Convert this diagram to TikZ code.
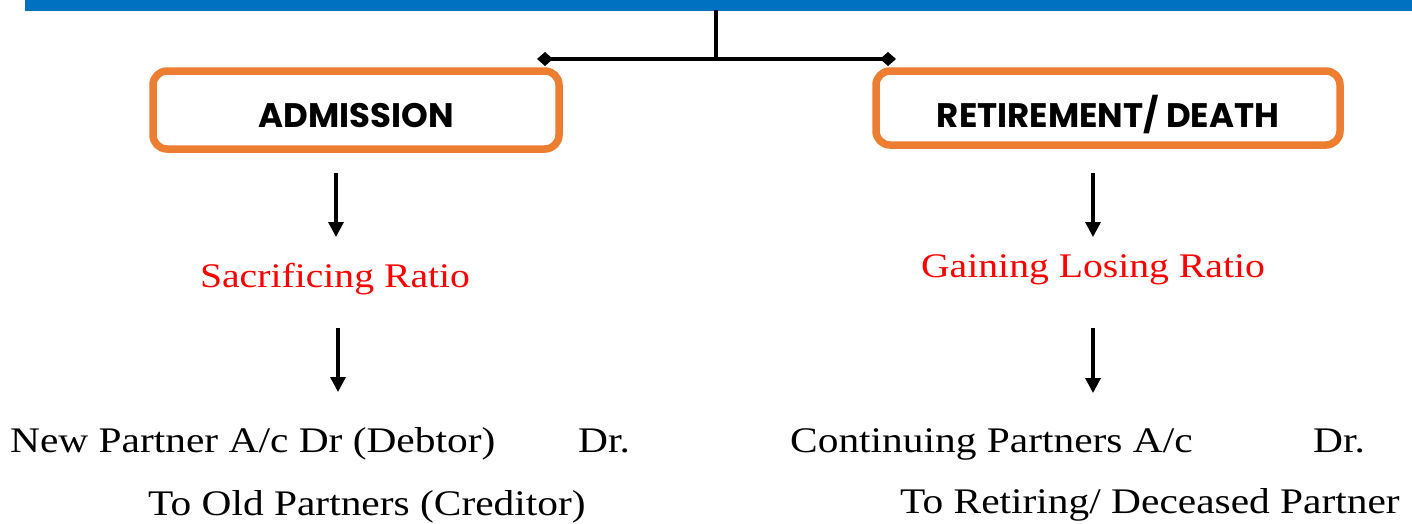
\documentclass[tikz,border=0pt]{standalone}
\usepackage{fontspec}
\setmainfont{Liberation Serif}
\newfontfamily\entryfont[FakeStretch=1.15]{Liberation Serif}
\newfontfamily\boxfont{Poppins}
\usetikzlibrary{arrows.meta}
\definecolor{barblue}{HTML}{0070C0}
\definecolor{boxorange}{HTML}{ED7D31}
\definecolor{ratiored}{HTML}{FF0000}
\begin{document}
\begin{tikzpicture}[x=1pt,y=-1pt,
  conn/.style={line width=3.3pt,black},
  arr/.style={line width=3.3pt,black,-{Triangle[length=15pt,width=15pt]}},
  catbox/.style={draw=boxorange,line width=7.5pt,rounded corners=14pt,fill=white,
    font=\boxfont\bfseries\fontsize{34}{40}\selectfont,inner sep=0pt},
  ratio/.style={text=ratiored,font=\entryfont\fontsize{34.5}{40}\selectfont,inner sep=0pt},
  entry/.style={font=\entryfont\fontsize{36}{42}\selectfont,inner sep=0pt,anchor=base west}]
\useasboundingbox (0,0) rectangle (1412,523);
\fill[barblue] (25,0) rectangle (1412,10.5);
\coordinate (top) at (716,10);
\coordinate (mid) at (716,59);
\coordinate (jl) at (537,59);
\coordinate (jr) at (896,59);
\draw[conn] (top) -- (mid);
\draw[conn,{Diamond[length=16pt,width=14pt]}-{Diamond[length=16pt,width=14pt]}] (jl) -- (jr);
\node[catbox,minimum width=406pt,minimum height=78pt] (adm) at (356,110) {\raisebox{-6pt}[\height][\depth]{ADMISSION}};
\node[catbox,minimum width=464pt,minimum height=74pt] (ret) at (1108,108) {\raisebox{-7pt}[\height][\depth]{RETIREMENT/ DEATH}};
\node[ratio] (sac) at (335,279) {Sacrificing Ratio};
\node[ratio] (gain) at (1093,270) {Gaining Losing Ratio};
\node[entry] (l1) at (10,452) {New Partner A/c Dr (Debtor)};
\node[entry] (l1dr) at (578,452) {Dr.};
\node[entry] (l2) at (148,515) {To Old Partners (Creditor)};
\node[entry] (r1) at (790,452) {Continuing Partners A/c};
\node[entry] (r1dr) at (1313,452) {Dr.};
\node[entry] (r2) at (900,513) {To Retiring/ Deceased Partner};
\coordinate (a1s) at (336,173);
\coordinate (a1e) at (336,237);
\coordinate (a2s) at (338,328);
\coordinate (a2e) at (338,392);
\coordinate (b1s) at (1093,173);
\coordinate (b1e) at (1093,237);
\coordinate (b2s) at (1093,328);
\coordinate (b2e) at (1093,393);
\draw[arr] (a1s) -- (a1e);
\draw[arr] (a2s) -- (a2e);
\draw[arr] (b1s) -- (b1e);
\draw[arr] (b2s) -- (b2e);
\end{tikzpicture}
\end{document}
